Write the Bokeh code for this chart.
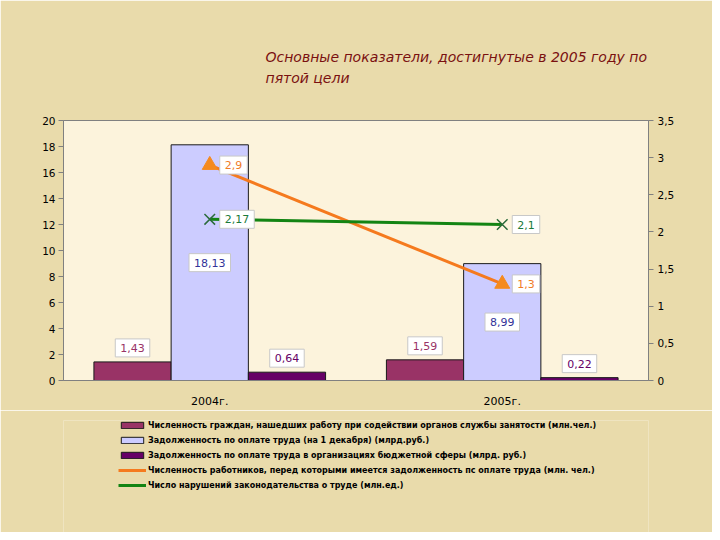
from bokeh.plotting import figure
from bokeh.layouts import column
from bokeh.models import (FactorRange, Range1d, LinearAxis, FixedTicker, ColumnDataSource,
                          Legend, LegendItem, Title, Label)
from bokeh.transform import dodge
from bokeh.embed import file_html
from bokeh.resources import INLINE
from bokeh.core.properties import value

years = ["2004г.", "2005г."]
employed = [1.43, 1.59]
wage_debt = [18.13, 8.99]
budget_debt = [0.64, 0.22]
workers_debt = [2.9, 1.3]
violations = [2.17, 2.1]

left_ticks = [0, 2, 4, 6, 8, 10, 12, 14, 16, 18, 20]
right_ticks = [0, 0.5, 1, 1.5, 2, 2.5, 3, 3.5]
right_tick_labels = ["0", "0,5", "1", "1,5", "2", "2,5", "3", "3,5"]

series_names = [
    "Численность граждан, нашедших работу при содействии органов службы занятости (млн.чел.)",
    "Задолженность по оплате труда (на 1 декабря) (млрд.руб.)",
    "Задолженность по оплате труда в организациях бюджетной сферы (млрд. руб.)",
    "Численность работников, перед которыми имеется задолженность пс оплате труда (млн. чел.)",
    "Число нарушений законодательства о труде (млн.ед.)",
]
title_lines = ["Основные показатели, достигнутые в 2005 году по", "пятой цели"]
page_number = "56"

COLORS = ["#993366", "#ccccff", "#660066", "#f57a1e", "#138413"]


def fmt(v):
    return f"{v:g}".replace(".", ",")


src = ColumnDataSource(dict(
    year=years,
    employed=employed, employed_lbl=[fmt(v) for v in employed],
    wage=wage_debt, wage_mid=[v / 2 for v in wage_debt], wage_lbl=[fmt(v) for v in wage_debt],
    budget=budget_debt, budget_lbl=[fmt(v) for v in budget_debt],
    workers=workers_debt, workers_lbl=[fmt(v) for v in workers_debt],
    viol=violations, viol_lbl=[fmt(v) for v in violations],
))

FONT = "DejaVu Sans"
BG = "#e9dbab"

p = figure(x_range=FactorRange(*years, range_padding=0), y_range=Range1d(0, 20),
           width=712, height=410, frame_width=585, frame_height=260,
           output_backend="svg", toolbar_location=None,
           min_border_left=63, min_border_right=64, min_border_top=120, min_border_bottom=30)
p.extra_y_ranges = {"right": Range1d(0, 3.5)}

p.border_fill_color = BG
p.background_fill_color = "#fcf3dc"
p.outline_line_color = "#808080"
p.outline_line_width = 1
p.xgrid.visible = False
p.ygrid.visible = False

# axes
p.yaxis.ticker = FixedTicker(ticks=left_ticks)
p.yaxis.minor_tick_line_color = None
p.yaxis.major_tick_out = 5
p.yaxis.major_tick_in = 0
p.yaxis.axis_line_color = "#808080"
p.yaxis.major_tick_line_color = "#808080"
p.yaxis.major_label_text_font = FONT
p.yaxis.major_label_text_font_size = "10.5px"
p.yaxis.major_label_text_color = "#000000"
p.yaxis.major_label_standoff = 3

ra = LinearAxis(y_range_name="right", ticker=FixedTicker(ticks=right_ticks),
                major_label_overrides={t: l for t, l in zip(right_ticks, right_tick_labels)})
ra.minor_tick_line_color = None
ra.major_tick_out = 5
ra.major_tick_in = 0
ra.axis_line_color = "#808080"
ra.major_tick_line_color = "#808080"
ra.major_label_text_font = FONT
ra.major_label_text_font_size = "10.5px"
ra.major_label_text_color = "#000000"
ra.major_label_standoff = 4
p.add_layout(ra, "right")

p.xaxis.major_tick_line_color = None
p.xaxis.axis_line_color = "#808080"
p.xaxis.major_label_text_font = FONT
p.xaxis.major_label_text_font_size = "11px"
p.xaxis.major_label_text_color = "#000000"
p.xaxis.major_label_standoff = 8

# bars
W = 0.264
p.vbar(x=dodge("year", -W, range=p.x_range), top="employed", width=W, source=src,
       fill_color=COLORS[0], line_color="#1a1a1a", line_width=1)
p.vbar(x=dodge("year", 0, range=p.x_range), top="wage", width=W, source=src,
       fill_color=COLORS[1], line_color="#1a1a1a", line_width=1)
p.vbar(x=dodge("year", W, range=p.x_range), top="budget", width=W, source=src,
       fill_color=COLORS[2], line_color="#1a1a1a", line_width=1)

# lines
p.line(x="year", y="workers", source=src, y_range_name="right",
       line_color=COLORS[3], line_width=3)
p.scatter(x="year", y="workers", source=src, y_range_name="right", marker="triangle",
          size=15, fill_color="#f58a1e", line_color="#f58a1e")
p.line(x="year", y="viol", source=src, y_range_name="right",
       line_color=COLORS[4], line_width=3)
p.scatter(x="year", y="viol", source=src, y_range_name="right", marker="x",
          size=15, line_color="#2b6b3b", line_width=1.5)

# labels
common = dict(source=src, text_font=value(FONT), text_font_size="11px",
              background_fill_color="#ffffff", border_line_color="#c8c8c8",
              padding=5)
p.text(x=dodge("year", -W, range=p.x_range), y="employed", text="employed_lbl",
       y_offset=-5, text_baseline="bottom", text_align="center", text_color="#993366", **common)
p.text(x=dodge("year", 0, range=p.x_range), y="wage_mid", text="wage_lbl",
       text_baseline="middle", text_align="center", text_color="#333399", **common)
p.text(x=dodge("year", W, range=p.x_range), y="budget", text="budget_lbl",
       y_offset=-5, text_baseline="bottom", text_align="center", text_color="#660066", **common)
p.text(x="year", y="workers", text="workers_lbl", y_range_name="right",
       x_offset=10, text_baseline="middle", text_align="left", text_color="#f07c28", **common)
p.text(x="year", y="viol", text="viol_lbl", y_range_name="right",
       x_offset=10, text_baseline="middle", text_align="left", text_color="#1a7a3a", **common)

# title
t = Title(text="\n".join(title_lines), align="left", offset=202, standoff=69,
          text_font=FONT, text_font_size="14px", text_font_style="italic",
          text_color="#7a1010", text_line_height=1.3)
p.add_layout(t, "above")

# legend figure (below the chart), frame aligned with the chart's frame
lp = figure(width=712, height=122, frame_width=585, frame_height=112,
            x_range=Range1d(0, 1), y_range=Range1d(0, 1),
            output_backend="svg", toolbar_location=None,
            x_axis_location=None, y_axis_location=None,
            min_border_left=63, min_border_right=64, min_border_top=10, min_border_bottom=0)
lp.border_fill_color = BG
lp.background_fill_color = BG
lp.outline_line_color = None
lp.xgrid.visible = False
lp.ygrid.visible = False

# legend-only renderers (their single point lies outside the visible range)
swatch = ColumnDataSource(dict(x=[-10], y=[-10]))
r1 = lp.vbar(x="x", top="y", width=0.1, source=swatch, fill_color=COLORS[0], line_color="#1a1a1a")
r2 = lp.vbar(x="x", top="y", width=0.1, source=swatch, fill_color=COLORS[1], line_color="#1a1a1a")
r3 = lp.vbar(x="x", top="y", width=0.1, source=swatch, fill_color=COLORS[2], line_color="#1a1a1a")
r4 = lp.line(x="x", y="y", source=swatch, line_color=COLORS[3], line_width=3)
r5 = lp.line(x="x", y="y", source=swatch, line_color=COLORS[4], line_width=3)

legend = Legend(items=[
    LegendItem(label=series_names[0], renderers=[r1]),
    LegendItem(label=series_names[1], renderers=[r2]),
    LegendItem(label=series_names[2], renderers=[r3]),
    LegendItem(label=series_names[3], renderers=[r4]),
    LegendItem(label=series_names[4], renderers=[r5]),
], location=(55, 42))
legend.label_text_font = FONT
legend.label_text_font_size = "8px"
legend.label_text_font_style = "bold"
legend.label_text_color = "#000000"
legend.label_height = 10
legend.glyph_height = 8
legend.glyph_width = 28
legend.spacing = 5
legend.padding = 0
legend.margin = 0
legend.label_standoff = 2
legend.border_line_color = None
legend.background_fill_alpha = 0
lp.add_layout(legend, "center")

lp.add_layout(Label(x=607, y=16, x_units="screen", y_units="screen", text=page_number,
                    text_font=FONT, text_font_size="11px", text_color="#f4eee0",
                    text_baseline="middle", text_align="center"))

open("out.html", "w").write(file_html(column(p, lp, spacing=0), INLINE))
